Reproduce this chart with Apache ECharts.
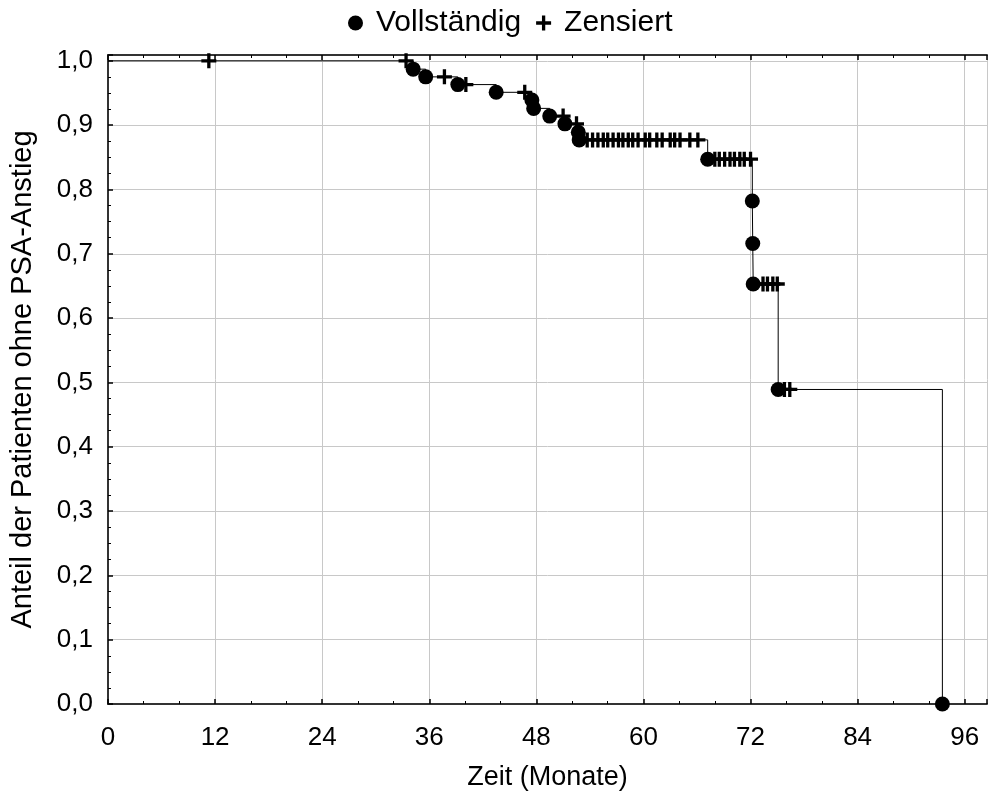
<!DOCTYPE html>
<html><head><meta charset="utf-8">
<script src="https://cdn.jsdelivr.net/npm/echarts@6/dist/echarts.min.js"></script>
<style>html,body{margin:0;padding:0;background:#fff}#c{width:991px;height:800px}</style>
</head><body><div id="c"></div><script>
// Kaplan-Meier data
const eventTimes = [34.2, 35.6, 39.2, 43.5, 47.5, 47.7, 49.5, 51.2, 52.7, 52.8, 67.2, 72.2, 72.25, 72.3, 75.1, 93.5];
const eventSurv  = [0.987, 0.975, 0.963, 0.951, 0.939, 0.926, 0.914, 0.902, 0.889, 0.877, 0.847, 0.782, 0.716, 0.653, 0.489, 0.0];
const censorTimes = [11.3, 33.4, 37.7, 40.1, 46.7, 51.0, 52.5,
  53.7, 54.3, 54.9, 55.5, 56.0, 56.6, 57.2, 57.7, 58.3, 58.8, 59.4, 60.2, 60.7, 61.5, 62.1, 63.0, 63.5, 64.1, 65.2, 66.1,
  68.0, 68.5, 69.1, 69.7, 70.2, 70.8, 71.3, 72.0,
  73.4, 73.9, 74.5, 75.0,
  75.8, 76.4];
const censorSurv = [1.0, 1.0, 0.975, 0.963, 0.951, 0.914, 0.902,
  0.877, 0.877, 0.877, 0.877, 0.877, 0.877, 0.877, 0.877, 0.877, 0.877, 0.877, 0.877, 0.877, 0.877, 0.877, 0.877, 0.877, 0.877, 0.877, 0.877,
  0.847, 0.847, 0.847, 0.847, 0.847, 0.847, 0.847, 0.847,
  0.653, 0.653, 0.653, 0.653,
  0.489, 0.489];
const xTickLabels = [0, 12, 24, 36, 48, 60, 72, 84, 96];
const yTickLabels = ['0,0','0,1','0,2','0,3','0,4','0,5','0,6','0,7','0,8','0,9','1,0'];
const legendNames = ['Vollständig', 'Zensiert'];
const xName = 'Zeit (Monate)';
const yName = 'Anteil der Patienten ohne PSA-Anstieg';

const FONT = "'Liberation Sans', Arial, sans-serif";
const PLUS = 'path://M0,3.9H3.9V0H6.1V3.9H10V6.1H6.1V10H3.9V6.1H0Z';

const stepData = [[0, 1]].concat(eventTimes.map((t, i) => [t, eventSurv[i]]));
const eventData = eventTimes.map((t, i) => [t, eventSurv[i]]);
const censorData = censorTimes.map((t, i) => [t, censorSurv[i]]);

const chart = echarts.init(document.getElementById('c'), null, {renderer: 'canvas'});
chart.setOption({
  animation: false,
  backgroundColor: '#fff',
  textStyle: {fontFamily: FONT},
  legend: {
    top: 3, left: 343, itemGap: 15, itemWidth: 15, itemHeight: 15,
    textStyle: {fontSize: 30, color: '#000', fontFamily: FONT, padding: [0, 0, 0, 8]},
    data: [{name: legendNames[0], icon: 'circle'}, {name: legendNames[1], icon: PLUS}]
  },
  grid: {left: 106, right: 4, top: 55, bottom: 96, containLabel: false},
  xAxis: [{
    type: 'value', position: 'bottom', min: 0, max: 98.5, interval: 12, offset: 5,
    name: xName, nameLocation: 'middle', nameGap: 55,
    nameTextStyle: {fontSize: 27, color: '#000', fontFamily: FONT},
    axisLine: {show: true, lineStyle: {color: '#333', width: 2}},
    axisTick: {show: true, inside: true, length: 5, lineStyle: {color: '#000', width: 1.5}},
    minorTick: {show: true, splitNumber: 3, length: 3, lineStyle: {color: '#000'}},
    axisLabel: {fontSize: 26, color: '#000', margin: 16, showMaxLabel: false, fontFamily: FONT,
      formatter: v => (xTickLabels.indexOf(v) >= 0 ? String(v) : '')},
    splitLine: {show: true, lineStyle: {color: '#c8c8c8', width: 1}}
  }, {
    type: 'value', position: 'top', min: 0, max: 98.5, interval: 12,
    axisLine: {show: true, lineStyle: {color: '#333', width: 2}},
    axisTick: {show: true, inside: true, length: 5, lineStyle: {color: '#000', width: 1.5}},
    minorTick: {show: true, splitNumber: 3, length: 3, lineStyle: {color: '#000'}},
    axisLabel: {show: false}, splitLine: {show: false}
  }],
  yAxis: [{
    type: 'value', min: 0, max: 1.009, interval: 0.1, offset: 4,
    name: yName, nameLocation: 'middle', nameGap: 67, nameRotate: 90,
    nameTextStyle: {fontSize: 29, color: '#000', fontFamily: FONT},
    axisLine: {show: true, lineStyle: {color: '#333', width: 2}},
    axisTick: {show: true, inside: true, length: 5, lineStyle: {color: '#000', width: 1.5}},
    minorTick: {show: true, splitNumber: 4, length: 3, lineStyle: {color: '#000'}},
    axisLabel: {fontSize: 26, color: '#000', margin: 11, showMaxLabel: false, fontFamily: FONT,
      formatter: v => { const i = Math.round(v * 10); return (Math.abs(v * 10 - i) < 1e-6 && yTickLabels[i]) ? yTickLabels[i] : ''; }},
    splitLine: {show: true, lineStyle: {color: '#c8c8c8', width: 1}}
  }],
  series: [{
    name: 'KM', type: 'line', step: 'end', data: stepData, xAxisIndex: 0,
    showSymbol: false, symbol: 'none', lineStyle: {color: '#000', width: 1}, silent: true, z: 3
  }, {
    name: legendNames[0], type: 'scatter', data: eventData, symbol: 'circle', symbolSize: 15,
    itemStyle: {color: '#000', opacity: 1}, z: 4
  }, {
    name: legendNames[1], type: 'scatter', data: censorData, symbol: PLUS, symbolSize: 15,
    itemStyle: {color: '#000', opacity: 1}, z: 5
  }]
});
</script></body></html>
